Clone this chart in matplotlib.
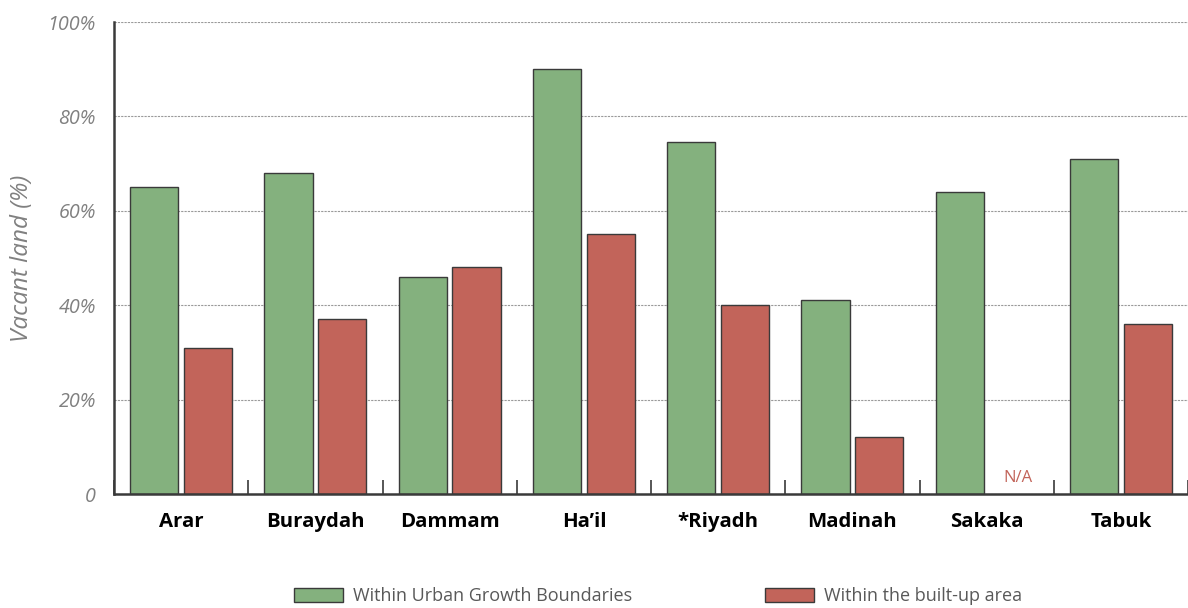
import numpy as np
import matplotlib.pyplot as plt
from matplotlib.ticker import FixedLocator

cities = ["Arar", "Buraydah", "Dammam", "Ha\u2019il", "*Riyadh", "Madinah", "Sakaka", "Tabuk"]
within_ugb = [65, 68, 46, 90, 74.5, 41, 64, 71]
within_builtup = [31, 37, 48, 55, 40, 12, np.nan, 36]

green = "#84B17E"
red = "#C2645A"
edge = "#3a3a3a"

plt.rcParams['font.family'] = ['Open Sans', 'DejaVu Sans']

fig = plt.figure(figsize=(11.88, 6.08), dpi=100)
ax = fig.add_axes([114 / 1188, 1 - 494 / 608, 1 - 114 / 1188, (494 - 22) / 608])

x = np.arange(len(cities))
w = 0.36
gap = 0.02
b1 = ax.bar(x - w / 2 - gap, within_ugb, w, color=green, edgecolor=edge, lw=1.0,
            label="Within Urban Growth Boundaries")
vals = [0 if np.isnan(v) else v for v in within_builtup]
b2 = ax.bar(x + w / 2 + gap, vals, w, color=red, edgecolor=edge, lw=1.0,
            label="Within the built-up area")
# no value for Sakaka
for i, v in enumerate(within_builtup):
    if np.isnan(v):
        b2[i].set_visible(False)
        ax.text(x[i] + w / 2 + gap + 0.03, 1.8, "N/A", color=red, fontsize=12,
                ha="center", va="bottom")

ax.set_xlim(-0.5, len(cities) - 0.5)
ax.set_ylim(0, 100)
ax.set_yticks([0, 20, 40, 60, 80, 100])
ax.set_yticklabels(["0", "20%", "40%", "60%", "80%", "100%"], fontstyle="italic",
                   color="#808080", fontsize=14.2)
ax.tick_params(axis="y", length=0, pad=13)
ax.set_xticks(x)
ax.set_xticklabels(cities, fontweight="bold", fontsize=14.7, color="black")
ax.tick_params(axis="x", length=0, pad=13)
ax.xaxis.set_minor_locator(FixedLocator(np.arange(-0.5, len(cities), 1)))
ax.tick_params(axis="x", which="minor", direction="in", length=10, width=1.2, color=edge)

ax.yaxis.grid(True, ls=(0, (2, 1)), color="#9a9a9a", lw=0.8)
ax.set_axisbelow(True)
for s in ["top", "right"]:
    ax.spines[s].set_visible(False)
ax.spines["left"].set_linewidth(1.8)
ax.spines["bottom"].set_linewidth(1.8)
ax.spines["left"].set_color(edge)
ax.spines["bottom"].set_color(edge)

ax.set_ylabel("Vacant land (%)", fontstyle="italic", color="#808080", fontsize=17.5, labelpad=10)

leg = fig.legend(handles=[b1, b2], loc="center", bbox_to_anchor=(0.554, 1 - 596 / 608),
                 ncol=2, frameon=False, fontsize=13, handlelength=2.7, handleheight=0.8,
                 columnspacing=7.4, handletextpad=0.55)
for t in leg.get_texts():
    t.set_color("#595959")

fig.savefig("out.png", dpi=100)
